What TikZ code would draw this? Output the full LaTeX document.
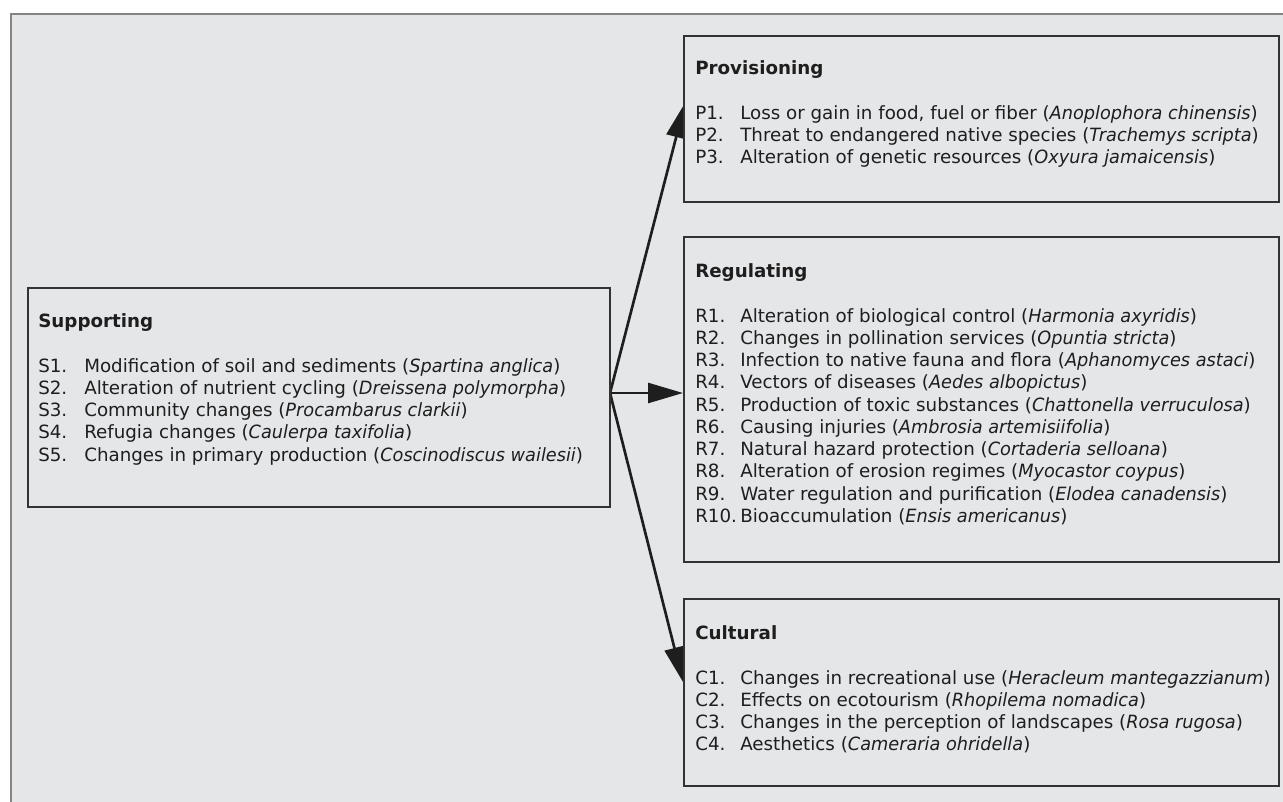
\documentclass[tikz,border=0pt]{standalone}
\usepackage{fontspec}
\setmainfont{DejaVu Sans}[ItalicFeatures={FakeStretch=0.97}]
\usetikzlibrary{arrows.meta,calc}
\definecolor{panel}{HTML}{E5E6E8}
\definecolor{frame}{HTML}{858585}
\definecolor{boxline}{HTML}{333333}
\definecolor{ink}{HTML}{1E1E1E}
\pgfdeclarelayer{bg}
\pgfdeclarelayer{arrowlayer}
\pgfsetlayers{bg,arrowlayer,main}
\tikzset{
  x=0.75pt, y=-0.75pt,
  box/.style={draw=boxline, line width=1.3pt, fill=panel, anchor=north west, inner sep=0pt},
  txt/.style={anchor=base west, inner sep=0pt, text=ink, font=\fontsize{13.7pt}{16.69pt}\selectfont},
  arr/.style={draw=ink, line width=2pt, -{Triangle[length=26.25pt, width=15pt]}}
}
\newcommand{\spn}[1]{\textit{#1}}
\begin{document}
\begin{tikzpicture}
\useasboundingbox (0,0) rectangle (1283,801);
\clip (0,0) rectangle (1283,801);
\begin{pgfonlayer}{bg}
  \fill[white] (0,0) rectangle (1283,801);
  \draw[draw=frame, line width=1.6pt, fill=panel] (11,14) rectangle (1300,820);
\end{pgfonlayer}

% boxes
\node[box, minimum width=582*0.75pt, minimum height=219*0.75pt] (sup)  at (27,287) {};
\node[box, minimum width=595*0.75pt, minimum height=166*0.75pt] (prov) at (683,35) {};
\node[box, minimum width=595*0.75pt, minimum height=325*0.75pt] (reg)  at (683,236) {};
\node[box, minimum width=595*0.75pt, minimum height=187*0.75pt] (cult) at (683,598) {};

% connectors
\coordinate (o) at (610,393);
\coordinate (ptip) at ($(prov.north west)+(2,68)$);
\coordinate (ctip) at ($(cult.north west)+(0,84)$);
\begin{pgfonlayer}{arrowlayer}
  \draw[arr] (o) -- (ptip);
  \draw[arr] (o) -- (o -| reg.west);
  \draw[arr] (o) -- (ctip);
\end{pgfonlayer}

% texts
\node[txt] (suptext) at (38,327.5) {\begin{tabular}[t]{@{}p{34.5pt}@{}l@{}}
\multicolumn{2}{@{}l@{}}{\textbf{Supporting}}\\
\\
S1. & Modification of soil and sediments (\spn{Spartina anglica})\\
S2. & Alteration of nutrient cycling (\spn{Dreissena polymorpha})\\
S3. & Community changes (\spn{Procambarus clarkii})\\
S4. & Refugia changes (\spn{Caulerpa taxifolia})\\
S5. & Changes in primary production (\spn{Coscinodiscus wailesii})
\end{tabular}};

\node[txt] (provtext) at (695,74.5) {\begin{tabular}[t]{@{}p{33.75pt}@{}l@{}}
\multicolumn{2}{@{}l@{}}{\textbf{Provisioning}}\\
\\
P1. & Loss or gain in food, fuel or fiber (\spn{Anoplophora chinensis})\\
P2. & Threat to endangered native species (\spn{Trachemys scripta})\\
P3. & Alteration of genetic resources (\spn{Oxyura jamaicensis})
\end{tabular}};

\node[txt] (regtext) at (695,277.5) {\begin{tabular}[t]{@{}p{33.75pt}@{}l@{}}
\multicolumn{2}{@{}l@{}}{\textbf{Regulating}}\\
\\
R1. & Alteration of biological control (\spn{Harmonia axyridis})\\
R2. & Changes in pollination services (\spn{Opuntia stricta})\\
R3. & Infection to native fauna and flora (\spn{Aphanomyces astaci})\\
R4. & Vectors of diseases (\spn{Aedes albopictus})\\
R5. & Production of toxic substances (\spn{Chattonella verruculosa})\\
R6. & Causing injuries (\spn{Ambrosia artemisiifolia})\\
R7. & Natural hazard protection (\spn{Cortaderia selloana})\\
R8. & Alteration of erosion regimes (\spn{Myocastor coypus})\\
R9. & Water regulation and purification (\spn{Elodea canadensis})\\
R10. & Bioaccumulation (\spn{Ensis americanus})
\end{tabular}};

\node[txt] (culttext) at (695,639.5) {\begin{tabular}[t]{@{}p{33.75pt}@{}l@{}}
\multicolumn{2}{@{}l@{}}{\textbf{Cultural}}\\
\\
C1. & Changes in recreational use (\spn{Heracleum mantegazzianum})\\
C2. & Effects on ecotourism (\spn{Rhopilema nomadica})\\
C3. & Changes in the perception of landscapes (\spn{Rosa rugosa})\\
C4. & Aesthetics (\spn{Cameraria ohridella})
\end{tabular}};
\end{tikzpicture}
\end{document}
